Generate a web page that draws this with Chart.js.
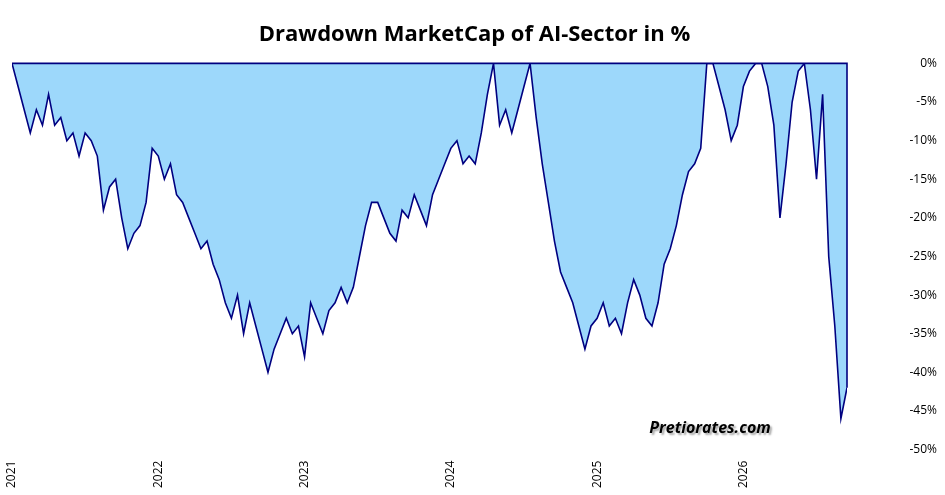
<!DOCTYPE html>
<html><head><meta charset="utf-8">
<script src="https://cdn.jsdelivr.net/npm/chart.js@4"></script>
<style>html,body{margin:0;padding:0;background:#fff}#w{width:945px;height:495px;position:relative}</style>
</head><body><div id="w"><canvas id="c"></canvas></div>
<script>
const startYear = 2021;
const stepsPerYear = 24;
const drawdown = [0,-3,-6,-9,-6,-8,-4,-8,-7,-10,-9,-12,-9,-10,-12,-19,-16,-15,-20,-24,-22,-21,-18,-11,
-12,-15,-13,-17,-18,-20,-22,-24,-23,-26,-28,-31,-33,-30,-35,-31,-34,-37,-40,-37,-35,-33,-35,-34,
-38,-31,-33,-35,-32,-31,-29,-31,-29,-25,-21,-18,-18,-20,-22,-23,-19,-20,-17,-19,-21,-17,-15,-13,
-11,-10,-13,-12,-13,-9,-4,0,-8,-6,-9,-6,-3,0,-7,-13,-18,-23,-27,-29,-31,-34,-37,-34,-33,-31,
-34,-33,-35,-31,-28,-30,-33,-34,-31,-26,-24,-21,-17,-14,-13,-11,0,0,-3,-6,-10,-8,-3,-1,0,0,
-3,-8,-20,-13,-5,-1,0,-6,-15,-4,-25,-34,-46,-42];
const yearTicks = [2021,2022,2023,2024,2025,2026];
const points = drawdown.map((v,i)=>({x:startYear+i/stepsPerYear,y:v}));
new Chart(document.getElementById('c'),{
 type:'line',
 data:{datasets:[{data:points,borderColor:'#000080',borderWidth:1.6,backgroundColor:'#9dd8fb',fill:'origin',pointRadius:0,tension:0}]},
 options:{responsive:true,maintainAspectRatio:false,animation:false,
  layout:{padding:{left:12,right:8,top:0,bottom:4}},
  plugins:{legend:{display:false},
   title:{display:true,text:'Drawdown MarketCap of AI-Sector in %',font:{family:'Open Sans',size:22,weight:'bold'},color:'#000',padding:{top:22,bottom:15}}},
  scales:{
   x:{type:'linear',min:2021,max:startYear+(drawdown.length-1)/stepsPerYear,
      afterBuildTicks:a=>{a.ticks=yearTicks.map(v=>({value:v}));},
      ticks:{maxRotation:90,minRotation:90,font:{family:'Open Sans',size:12},color:'#000',callback:v=>String(v)},
      grid:{display:false},border:{display:false}},
   y:{position:'right',min:-50,max:0,
      ticks:{stepSize:5,callback:v=>v+'%',font:{family:'Open Sans',size:12},color:'#000',crossAlign:'far',padding:4},
      afterFit:s=>{s.width=90;},
      grid:{display:false},border:{display:false}}
  }},
 plugins:[{id:'wm',afterDatasetsDraw(ch){const c=ch.ctx,a=ch.chartArea,y0=ch.scales.y.getPixelForValue(0),yl=ch.scales.y.getPixelForValue(drawdown[drawdown.length-1]);c.save();c.strokeStyle='#000080';c.lineWidth=1.6;c.beginPath();c.moveTo(a.left,y0);c.lineTo(a.right,y0);c.lineTo(a.right,yl);c.stroke();c.restore();},
  afterDraw(ch){const c=ch.ctx;c.save();c.font='italic bold 16px "Open Sans"';c.fillStyle='#000';c.textAlign='center';c.shadowColor='rgba(0,0,0,0.35)';c.shadowOffsetX=2;c.shadowOffsetY=2;c.shadowBlur=2;c.fillText('Pretiorates.com',710,433);c.restore();}}]
});
</script></body></html>
